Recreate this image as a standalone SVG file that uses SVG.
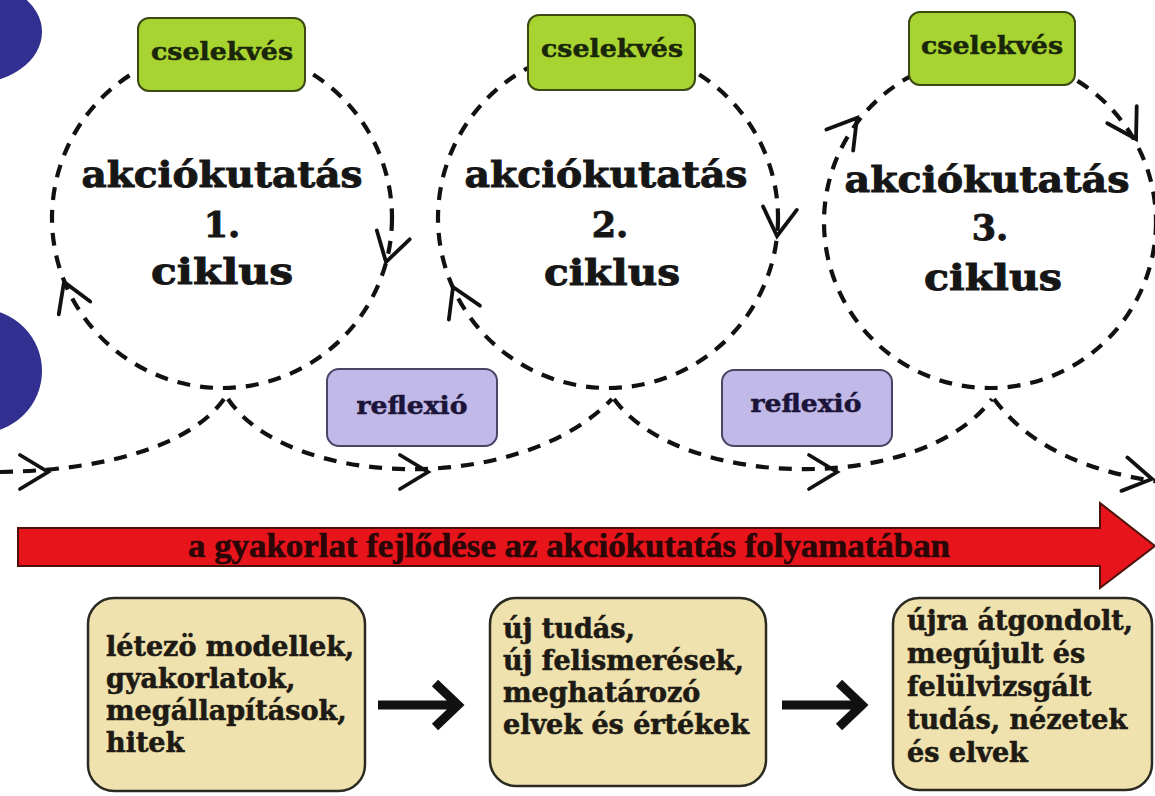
<svg xmlns="http://www.w3.org/2000/svg" width="1155" height="796" viewBox="0 0 1155 796">
<style>
.t{font-family:"DejaVu Serif","Liberation Serif",serif;font-weight:bold;}
.dash{fill:none;stroke:#111;stroke-width:4.2;stroke-dasharray:13 10;}
.chev{fill:none;stroke:#111;stroke-width:3.8;stroke-linecap:round;stroke-linejoin:miter;}
.act{fill:#a8d431;stroke:#3a4a12;stroke-width:2;}
.ref{fill:#c1b9e7;stroke:#4a4466;stroke-width:2;}
.bx{fill:#efe2ae;stroke:#2a2a22;stroke-width:2.5;}
.big{font-size:35px;fill:#161616;stroke:#161616;stroke-width:0.9;text-anchor:middle;}
.lbl{font-size:24px;stroke-width:0.5;text-anchor:middle;}
.body{font-size:27px;fill:#1e1a14;stroke:#1e1a14;stroke-width:0.6;}
.barr{fill:none;stroke:#111;stroke-width:9;}
</style>
<defs>
<path id="chev" class="chev" d="M-28,-17 L0,0 L-28,17"/>
</defs>
<rect width="1155" height="796" fill="#fff"/>
<g id="deco">
<ellipse cx="-30" cy="32" rx="72" ry="52" fill="#312f8f"/>
<circle cx="-20" cy="371" r="62" fill="#312f8f"/>
</g>
<g id="connectors">
<circle class="dash" cx="222" cy="218" r="170"/>
<circle class="dash" cx="608" cy="218" r="170"/>
<circle class="dash" cx="990" cy="222" r="166"/>
<path class="dash" d="M224,399 C195,440 120,470 0,472"/>
<path class="dash" d="M228,399 C290,490 520,495 612,399"/>
<path class="dash" d="M614,399 C680,490 920,495 992,399"/>
<path class="dash" d="M994,399 C1030,448 1090,472 1160,482"/>
<use href="#chev" transform="translate(386,262) rotate(105)"/>
<use href="#chev" transform="translate(64,282) rotate(248)"/>
<use href="#chev" transform="translate(777,236) rotate(96)"/>
<use href="#chev" transform="translate(453,287) rotate(246)"/>
<use href="#chev" transform="translate(857,118) rotate(308)"/>
<use href="#chev" transform="translate(1136,139) rotate(60)"/>
<use href="#chev" transform="translate(48,472) rotate(0)"/>
<use href="#chev" transform="translate(428,472) rotate(0)"/>
<use href="#chev" transform="translate(837,472) rotate(0)"/>
<use href="#chev" transform="translate(1152,479) rotate(10)"/>
<path class="barr" d="M378,705 H452 M435,683 L458,705 L435,727"/>
<path class="barr" d="M782,705 H856 M839,683 L862,705 L839,727"/>
</g>
<g id="cycle1">
<text class="t big" x="222" y="187" textLength="281" lengthAdjust="spacingAndGlyphs">akciókutatás</text>
<text class="t big" x="222" y="237">1.</text>
<text class="t big" x="222" y="284" textLength="142" lengthAdjust="spacingAndGlyphs">ciklus</text>
</g>
<g id="cycle2">
<text class="t big" x="606" y="187" textLength="283" lengthAdjust="spacingAndGlyphs">akciókutatás</text>
<text class="t big" x="610" y="237">2.</text>
<text class="t big" x="612" y="285" textLength="136" lengthAdjust="spacingAndGlyphs">ciklus</text>
</g>
<g id="cycle3">
<text class="t big" x="987" y="192" textLength="285" lengthAdjust="spacingAndGlyphs">akciókutatás</text>
<text class="t big" x="990" y="240">3.</text>
<text class="t big" x="993" y="290" textLength="138" lengthAdjust="spacingAndGlyphs">ciklus</text>
</g>
<g id="action1">
<rect class="act" x="138" y="18" width="167" height="73" rx="11"/>
<text class="t lbl" x="222" y="60" fill="#1a260a" stroke="#1a260a" textLength="142" lengthAdjust="spacingAndGlyphs">cselekvés</text>
</g>
<g id="action2">
<rect class="act" x="528" y="15" width="167" height="75" rx="11"/>
<text class="t lbl" x="612" y="57" fill="#1a260a" stroke="#1a260a" textLength="142" lengthAdjust="spacingAndGlyphs">cselekvés</text>
</g>
<g id="action3">
<rect class="act" x="909" y="12" width="166" height="73" rx="11"/>
<text class="t lbl" x="992" y="54" fill="#1a260a" stroke="#1a260a" textLength="142" lengthAdjust="spacingAndGlyphs">cselekvés</text>
</g>
<g id="reflection1">
<rect class="ref" x="327" y="369" width="170" height="77" rx="12"/>
<text class="t lbl" x="412" y="414" fill="#1c1438" stroke="#1c1438" textLength="111" lengthAdjust="spacingAndGlyphs">reflexió</text>
</g>
<g id="reflection2">
<rect class="ref" x="722" y="370" width="170" height="76" rx="12"/>
<text class="t lbl" x="806" y="412" fill="#1c1438" stroke="#1c1438" textLength="111" lengthAdjust="spacingAndGlyphs">reflexió</text>
</g>
<g id="progress">
<path d="M18,528 H1100 V503 L1155,546 L1100,588 V566 H18 Z" fill="#e8141c" stroke="#4a1208" stroke-width="2"/>
<text x="569" y="557" font-family="'Liberation Serif',serif" font-weight="bold" font-size="33" fill="#2a0606" stroke="#2a0606" stroke-width="0.6" text-anchor="middle" textLength="762" lengthAdjust="spacingAndGlyphs">a gyakorlat fejlődése az akciókutatás folyamatában</text>
</g>
<g id="stage1">
<rect class="bx" x="88" y="598" width="277" height="193" rx="26"/>
<text class="t body"><tspan x="106" y="656">létezö modellek,</tspan><tspan x="106" y="688">gyakorlatok,</tspan><tspan x="106" y="720">megállapítások,</tspan><tspan x="106" y="752">hitek</tspan></text>
</g>
<g id="stage2">
<rect class="bx" x="490" y="598" width="276" height="188" rx="26"/>
<text class="t body"><tspan x="503" y="638">új tudás,</tspan><tspan x="503" y="670">új felismerések,</tspan><tspan x="503" y="702">meghatározó</tspan><tspan x="503" y="734">elvek és értékek</tspan></text>
</g>
<g id="stage3">
<rect class="bx" x="893" y="598" width="259" height="192" rx="26"/>
<text class="t body"><tspan x="907" y="630">újra átgondolt,</tspan><tspan x="907" y="663">megújult és</tspan><tspan x="907" y="696">felülvizsgált</tspan><tspan x="907" y="729">tudás, nézetek</tspan><tspan x="907" y="762">és elvek</tspan></text>
</g>
</svg>
